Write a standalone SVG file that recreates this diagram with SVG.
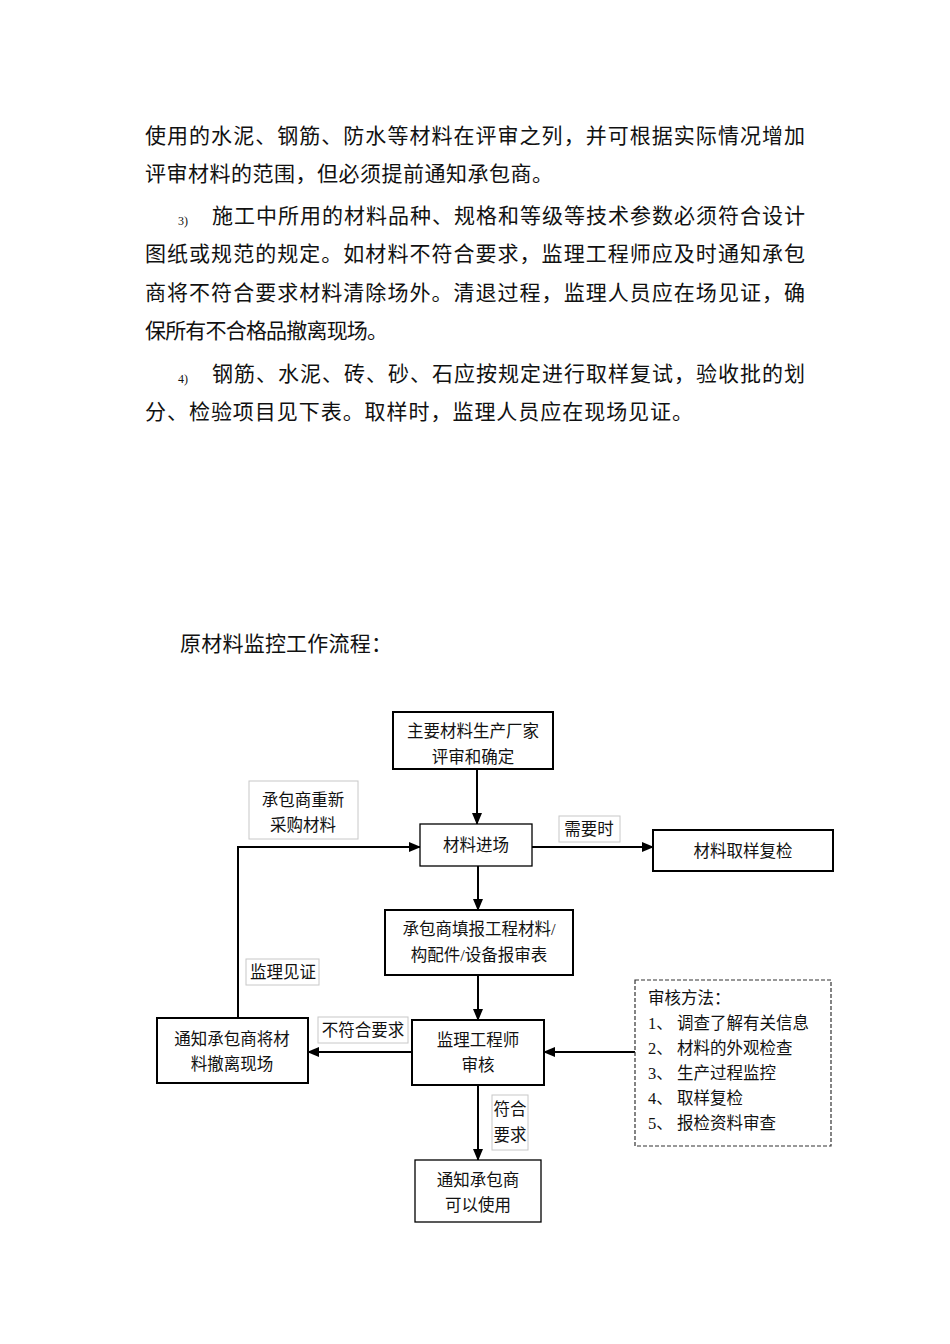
<svg xmlns="http://www.w3.org/2000/svg" width="950" height="1344" viewBox="0 0 950 1344">
<style>
.body{font-family:"Liberation Serif","Noto Sans CJK SC",serif;font-size:21px;fill:#111}
.num{font-family:"Liberation Serif",serif;font-size:12px;fill:#111}
.t{font-family:"Liberation Serif","Noto Sans CJK SC",sans-serif;font-size:16.5px;fill:#111;text-anchor:middle}
.tl{font-family:"Liberation Serif","Noto Sans CJK SC",sans-serif;font-size:16.5px;fill:#111}
.box{fill:#fff;stroke:#000;stroke-width:2}
.box1{fill:#fff;stroke:#000;stroke-width:1.3}
.lab{fill:#fff;stroke:#c8c8c8;stroke-width:1}
.dash{fill:#fff;stroke:#333;stroke-width:1.2;stroke-dasharray:4 2}
.c{fill:none;stroke:#000;stroke-width:2}
</style>
<defs>
<marker id="ah" markerUnits="userSpaceOnUse" markerWidth="12" markerHeight="10" refX="11" refY="5" orient="auto">
<path d="M0,0 L12,5 L0,10 Z" fill="#000"/>
</marker>
</defs>
<rect width="950" height="1344" fill="#fff"/>
<g id="body-text">
<text class="body" x="145" y="143" textLength="660" lengthAdjust="spacing">使用的水泥、钢筋、防水等材料在评审之列，并可根据实际情况增加</text>
<text class="body" x="145" y="181" textLength="408" lengthAdjust="spacing">评审材料的范围，但必须提前通知承包商。</text>
<text class="num" x="178" y="225">3)</text>
<text class="body" x="212" y="223" textLength="593" lengthAdjust="spacing">施工中所用的材料品种、规格和等级等技术参数必须符合设计</text>
<text class="body" x="145" y="261" textLength="660" lengthAdjust="spacing">图纸或规范的规定。如材料不符合要求，监理工程师应及时通知承包</text>
<text class="body" x="145" y="300" textLength="660" lengthAdjust="spacing">商将不符合要求材料清除场外。清退过程，监理人员应在场见证，确</text>
<text class="body" x="145" y="338" textLength="243" lengthAdjust="spacing">保所有不合格品撤离现场。</text>
<text class="num" x="178" y="383">4)</text>
<text class="body" x="212" y="381" textLength="593" lengthAdjust="spacing">钢筋、水泥、砖、砂、石应按规定进行取样复试，验收批的划</text>
<text class="body" x="145" y="419" textLength="548" lengthAdjust="spacing">分、检验项目见下表。取样时，监理人员应在现场见证。</text>
<text class="body" x="180" y="651" textLength="212" lengthAdjust="spacing">原材料监控工作流程：</text>
</g>
<g id="connectors">
<line class="c" x1="477" y1="770" x2="477" y2="824" marker-end="url(#ah)"/>
<polyline class="c" points="238,1018 238,847 420,847" marker-end="url(#ah)"/>
<line class="c" x1="532" y1="847" x2="653" y2="847" marker-end="url(#ah)"/>
<line class="c" x1="478" y1="866" x2="478" y2="910" marker-end="url(#ah)"/>
<line class="c" x1="478" y1="975" x2="478" y2="1020" marker-end="url(#ah)"/>
<line class="c" x1="412" y1="1052" x2="308" y2="1052" marker-end="url(#ah)"/>
<line class="c" x1="635" y1="1052" x2="544" y2="1052" marker-end="url(#ah)"/>
<line class="c" x1="478" y1="1085" x2="478" y2="1160" marker-end="url(#ah)"/>
</g>
<g id="n-factory">
<rect class="box" x="393" y="712" width="160" height="57"/>
<text class="t" x="473" y="737">主要材料生产厂家</text>
<text class="t" x="473" y="763">评审和确定</text>
</g>
<g id="n-repurchase-label">
<rect class="lab" x="249" y="781" width="109" height="58"/>
<text class="t" x="303" y="806">承包商重新</text>
<text class="t" x="303" y="831">采购材料</text>
</g>
<g id="n-arrival">
<rect class="box1" x="420" y="824" width="112" height="42"/>
<text class="t" x="476" y="851">材料进场</text>
</g>
<g id="n-when-needed-label">
<rect class="lab" x="559" y="816" width="61" height="26"/>
<text class="t" x="589" y="835">需要时</text>
</g>
<g id="n-sampling">
<rect class="box" x="653" y="830" width="180" height="41"/>
<text class="t" x="743" y="857">材料取样复检</text>
</g>
<g id="n-report">
<rect class="box" x="385" y="910" width="188" height="65"/>
<text class="t" x="479" y="935">承包商填报工程材料/</text>
<text class="t" x="479" y="961">构配件/设备报审表</text>
</g>
<g id="n-witness-label">
<rect class="lab" x="246" y="959" width="73" height="26"/>
<text class="t" x="283" y="978">监理见证</text>
</g>
<g id="n-remove">
<rect class="box" x="157" y="1018" width="151" height="65"/>
<text class="t" x="232" y="1045">通知承包商将材</text>
<text class="t" x="232" y="1070">料撤离现场</text>
</g>
<g id="n-noncomply-label">
<rect class="lab" x="318" y="1017" width="90" height="26"/>
<text class="t" x="363" y="1036">不符合要求</text>
</g>
<g id="n-review">
<rect class="box" x="412" y="1020" width="132" height="65"/>
<text class="t" x="478" y="1046">监理工程师</text>
<text class="t" x="478" y="1071">审核</text>
</g>
<g id="n-methods">
<rect class="dash" x="635" y="980" width="196" height="166"/>
<text class="tl" x="648" y="1004">审核方法：</text>
<text class="tl" x="648" y="1029">1、 调查了解有关信息</text>
<text class="tl" x="648" y="1054">2、 材料的外观检查</text>
<text class="tl" x="648" y="1079">3、 生产过程监控</text>
<text class="tl" x="648" y="1104">4、 取样复检</text>
<text class="tl" x="648" y="1129">5、 报检资料审查</text>
</g>
<g id="n-comply-label">
<rect class="lab" x="492" y="1095" width="36" height="55"/>
<text class="t" x="510" y="1115">符合</text>
<text class="t" x="510" y="1141">要求</text>
</g>
<g id="n-use">
<rect class="box1" x="415" y="1160" width="126" height="62"/>
<text class="t" x="478" y="1186">通知承包商</text>
<text class="t" x="478" y="1211">可以使用</text>
</g>
</svg>
